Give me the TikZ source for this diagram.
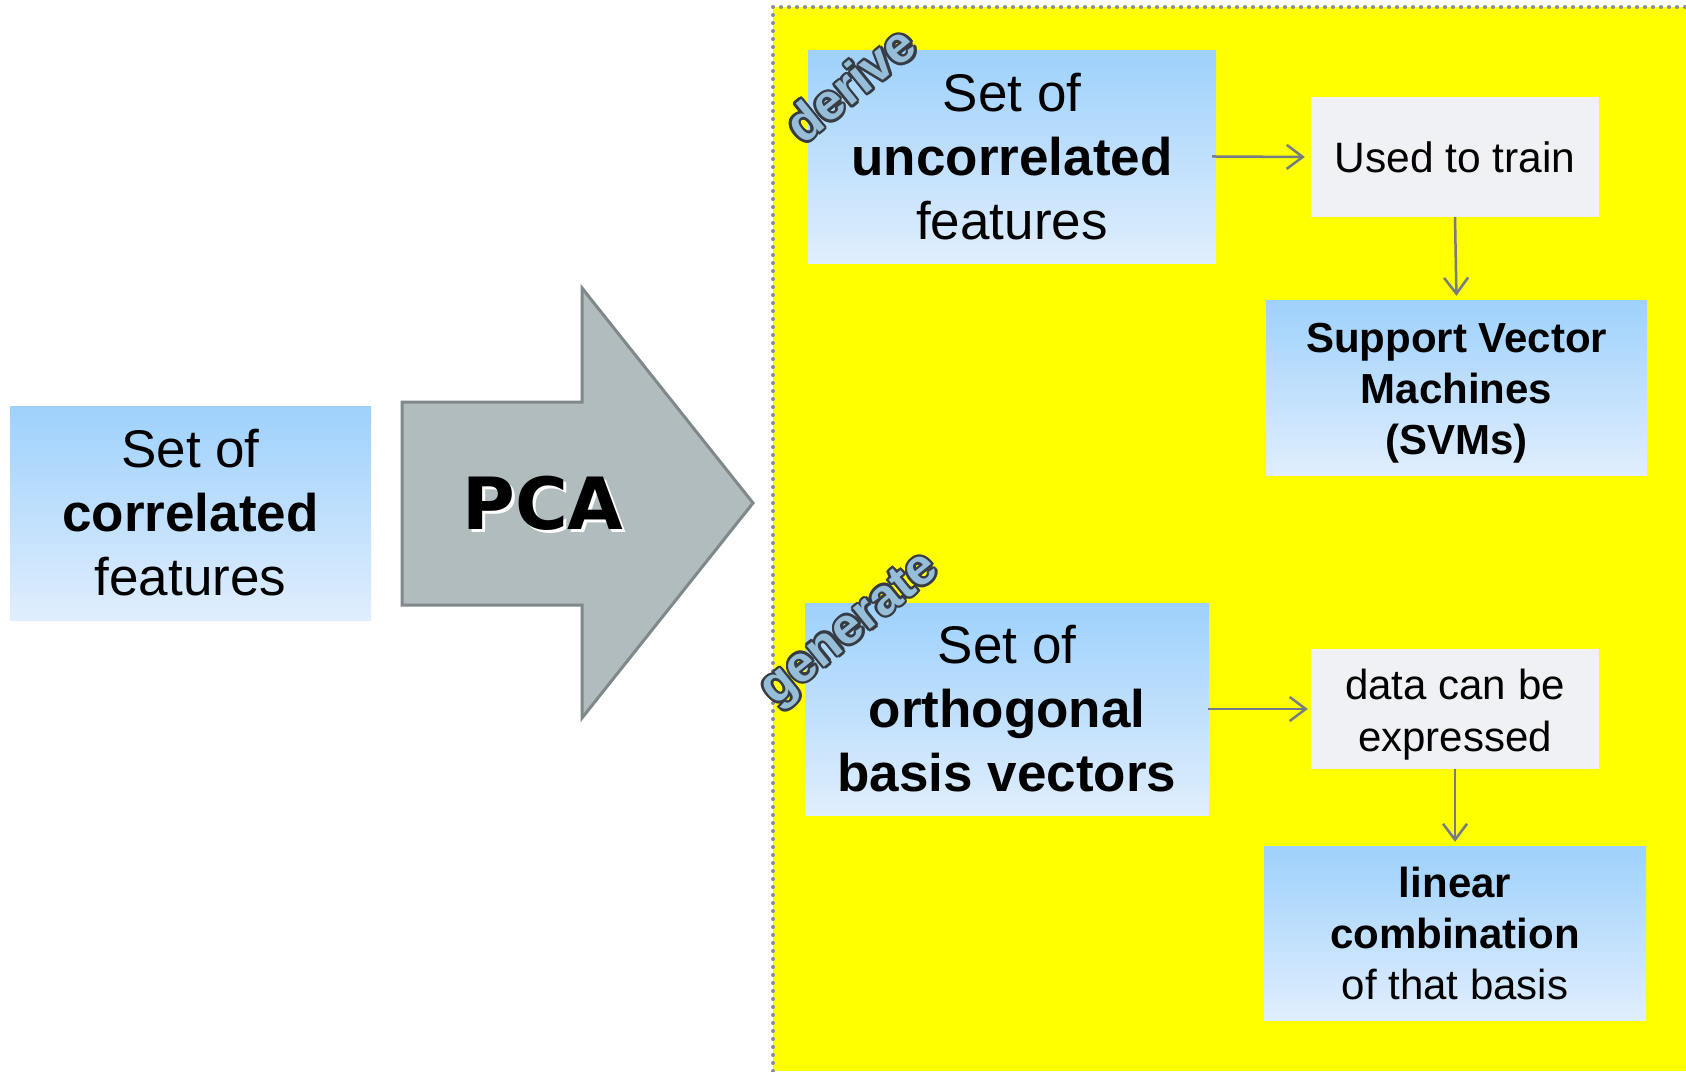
\documentclass[tikz,border=0pt]{standalone}
\usepackage{fontspec}
\setmainfont{Liberation Sans}
\newfontfamily\pcafont{DejaVu Sans}
\usetikzlibrary{arrows.meta,calc}
\definecolor{yel}{RGB}{255,255,0}
\definecolor{boxtop}{RGB}{158,209,252}
\definecolor{boxbot}{RGB}{224,238,253}
\definecolor{usedfill}{RGB}{240,241,244}
\definecolor{conncol}{RGB}{118,124,132}
\definecolor{pcafill}{RGB}{177,188,191}
\definecolor{pcadraw}{RGB}{128,136,138}
\definecolor{dotcol}{RGB}{136,141,150}
\definecolor{labfill}{RGB}{150,190,216}
\definecolor{labline}{RGB}{55,60,68}
\tikzset{
  gbox/.style={top color=boxtop,bottom color=boxbot,draw=none,inner sep=0pt,align=center,
    font=\fontsize{53}{64}\selectfont},
  sbox/.style={top color=boxtop,bottom color=boxbot,draw=none,inner sep=0pt,align=center,
    font=\fontsize{42}{51}\selectfont},
  lbox/.style={fill=usedfill,draw=none,inner sep=0pt,align=center,
    font=\fontsize{42}{52}\selectfont},
  btext/.style={inner sep=0pt,align=center,font=\fontsize{42}{51}\selectfont},
  conn/.style={draw=conncol,line width=2.5pt,-{Straight Barb[length=16pt,width=24pt]}},
  outl/.style={inner sep=0pt,font=\bfseries\fontsize{51}{55}\selectfont,text=labline},
  outf/.style={inner sep=0pt,font=\bfseries\fontsize{51}{55}\selectfont,text=labfill},
}
\begin{document}
\begin{tikzpicture}[x=1pt,y=-1pt]
\useasboundingbox (0,0) rectangle (1686,1071);
\fill[white] (0,0) rectangle (1686,1071);
% yellow region
\fill[yel] (773,7) rectangle (1686,1071);
\draw[dotcol,line width=4pt,line cap=round,dash pattern=on 0pt off 8pt] (773,1071) -- (773,7) -- (1686,7);
% PCA arrow
\draw[fill=pcafill,draw=pcadraw,line width=3pt,line join=miter] (402,402) -- (582,402) -- (582,288) -- (753,503) -- (582,718) -- (582,605) -- (402,605) -- cycle;
\node[text=white,font=\pcafont\bfseries\fontsize{72}{80}\selectfont] (pcash) at (546,506) {PCA};
\node[text=black,font=\pcafont\bfseries\fontsize{72}{80}\selectfont] (pca) at (543,503) {PCA};
% boxes
\node[gbox,minimum width=361pt,minimum height=214pt] (corr) at (190.5,513) {Set of\\\textbf{correlated}\\features};
\node[gbox,minimum width=408pt,minimum height=213pt] (uncorr) at (1012,156.5) {Set of\\\textbf{uncorrelated}\\features};
\node[gbox,minimum width=404pt,minimum height=212pt] (orth) at (1007,709) {Set of\\\textbf{orthogonal}\\\textbf{basis vectors}};
\node[lbox,minimum width=288pt,minimum height=120pt,font=\fontsize{42.5}{52}\selectfont] (used) at (1455,157) {Used to train};
\node[sbox,minimum width=381pt,minimum height=175pt] (svm) at (1456.5,387.5) {};
\node[btext] (svmt) at (1456.5,393) {\textbf{Support Vector}\\\textbf{Machines}\\\textbf{(SVMs)}};
\node[lbox,minimum width=288pt,minimum height=120pt] (data) at (1455,709) {};
\node[btext,font=\fontsize{42}{52}\selectfont] (datat) at (1455,715) {data can be\\expressed};
\node[sbox,minimum width=382pt,minimum height=174pt] (lin) at (1455,933) {\textbf{linear}\\\textbf{combination}\\of that basis};
% connectors
\draw[conn,shorten <=-4pt,shorten >=6pt] (uncorr.east) -- (used.west);
\draw[conn,shorten >=4pt] (used.south) -- (svm.north);
\draw[conn,shorten <=-1pt,shorten >=3pt] (orth.east) -- (data.west);
\draw[conn,shorten >=4pt] (data.south) -- (lin.north);
% outlined labels
\foreach \a [count=\i] in {0,30,...,330}{
  \node[outl,rotate=39] (dc\i) at ($(850,84)+(\a:2.6)$) {derive};
  \node[outl,rotate=39] (gc\i) at ($(851,631)+(\a:2.6)$) {generate};
}
\node[outf,rotate=39] (derive) at (850,84) {derive};
\node[outf,rotate=39] (generate) at (851,631) {generate};
\end{tikzpicture}
\end{document}
